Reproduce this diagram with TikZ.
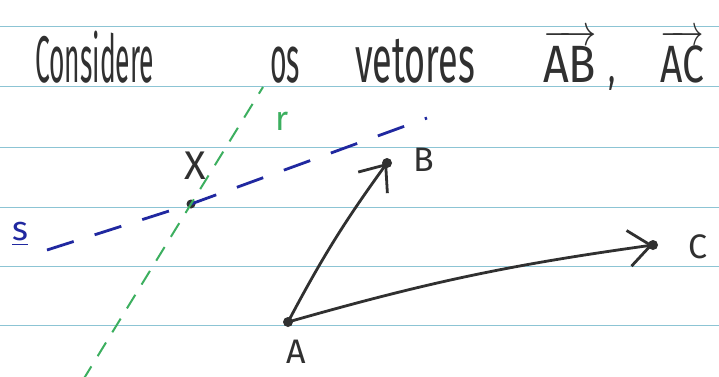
\documentclass[tikz,border=0pt]{standalone}
\usepackage{amsmath}
\usepackage{graphicx}
\usepackage{fontspec}
\setmainfont{Fira Sans}
\usetikzlibrary{arrows.meta, positioning}
\definecolor{ruleblue}{RGB}{140,196,212}
\definecolor{penblack}{RGB}{48,48,48}
\definecolor{penblue}{RGB}{32,40,160}
\definecolor{pengreen}{RGB}{60,175,95}
\tikzset{
word/.style={anchor=base west, text=penblack, inner sep=0pt,
  font=\fontsize{30}{36}\selectfont},
pt/.style={circle, fill=penblack, inner sep=0pt, minimum size=10pt},
vec/.style={draw=penblack, line width=2.8pt,
  -{Straight Barb[length=22pt,width=36pt]}},
lab/.style={text=penblack, font=\fontsize{34}{38}\selectfont},
ruleline/.style={draw=ruleblue, line width=1pt},
sline/.style={draw=penblue, line width=2.8pt, dash pattern=on 28pt off 22pt},
rline/.style={draw=pengreen, line width=2pt, dash pattern=on 16pt off 12pt},
}

\begin{document}
\begin{tikzpicture}[x=1pt, y=-1pt]
    \useasboundingbox (0,0) rectangle (719,376);
    \clip (0,0) rectangle (719,376);
    \fill[white] (0,0) rectangle (719,376);
    % ruled paper
    \foreach \y in {26,86,147,207,266,325}
        \draw[ruleline] (0,\y) -- (719,\y);

    % title
    \node[word] (t1) at (35,82) {\scalebox{0.88}[2.2]{Considere}};
    \node[word] (t2) at (270,82) {\scalebox{0.95}[2.2]{os}};
    \node[word] (t3) at (355,82) {\scalebox{1.2}[2.2]{vetores}};
    \node[word] (t4) at (543,82) {\scalebox{1.5}[1.75]{$\overrightarrow{\text{AB}}$}\hspace{12pt}\scalebox{1}[1.6]{,}};
    \node[word] (t5) at (660,82) {\scalebox{1.3}[1.75]{$\overrightarrow{\text{AC}}$}};

    % points
    \node[pt] (a) at (288,322) {};
    \node[pt] (b) at (387,163) {};
    \node[pt] (c) at (653,245) {};
    \node[pt, minimum size=9pt] (x) at (191,204) {};
    \node[lab] (la) at (296,352) {A};
    \node[lab] (lb) at (424,160) {B};
    \node[lab] (lc) at (698,247) {C};
    \node[lab, font=\fontsize{40}{44}\selectfont] (lx) at (195,166) {X};
    \node[lab, text=pengreen] (lr) at (282,121) {r};
    \node[lab, text=penblue] (ls) at (20,234) {\underline{s}};

    % lines r and s
    \coordinate (s0) at (47,250);
    \coordinate (s1) at (427,118);
    \coordinate (r0) at (83,380);
    \coordinate (r1) at (263,87);
    \draw[sline] (s0) -- (x.center) -- (s1);
    \draw[rline] (r0) -- (x.center) -- (r1);

    % vectors
    \draw[vec] (a.center) to[bend left=4] (b.center);
    \draw[vec] (a.center) to[bend left=4] (c.center);
\end{tikzpicture}
\end{document}
